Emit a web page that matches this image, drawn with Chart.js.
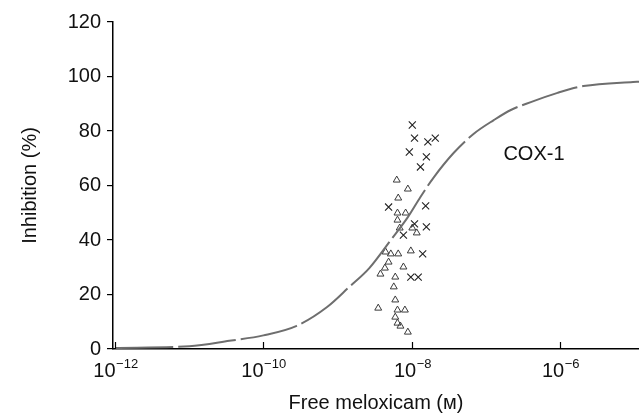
<!DOCTYPE html>
<html>
<head>
<meta charset="utf-8">
<script src="https://cdn.jsdelivr.net/npm/chart.js@4.4.1/dist/chart.umd.min.js"></script>
<style>
  html, body { margin: 0; padding: 0; background: #fff; }
  #wrap { width: 639px; height: 420px; position: relative; }
</style>
</head>
<body>
<div id="wrap"><canvas id="c" width="639" height="420"></canvas></div>
<script>
// ---- Data (x values stored as log10 of free meloxicam concentration, M) ----
const xTickExponents = [-12, -10, -8, -6];
const xTickBase = '10';
const xTickExponentLabels = ['\u221212', '\u221210', '\u22128', '\u22126'];
const yTickValues = [0, 20, 40, 60, 80, 100, 120];

// fitted COX-1 curve
const curveLogConc = [-12.0, -11.0, -10.46, -10.0, -9.55, -9.14, -8.84, -8.57, -8.28, -8.05, -7.88, -7.70, -7.43, -7.16, -6.89, -6.66, -6.39, -6.03, -5.68, -5.01, -4.93];
const curveInhibition = [0.4, 1.0, 3.0, 5.0, 8.5, 15.4, 22.8, 29.7, 40.0, 48.4, 55.8, 63.0, 72.0, 79.0, 84.0, 87.7, 90.6, 94.0, 96.5, 98.0, 98.1];

// crosses
const crossLogConc = [-7.99, -7.96, -7.78, -7.68, -8.03, -7.80, -7.88, -8.31, -7.81, -7.96, -7.80, -8.11, -7.85, -8.01, -7.91];
const crossInhibition = [82.2, 77.4, 76.0, 77.4, 72.3, 70.5, 66.8, 52.1, 52.5, 45.9, 44.8, 41.8, 34.9, 26.4, 26.4];

// triangles
const triLogConc = [-8.20, -8.05, -8.18, -8.19, -8.08, -8.19, -7.99, -7.93, -8.16, -8.35, -8.28, -8.18, -8.01, -8.31, -8.36, -8.42, -8.11, -8.22, -8.24, -8.22, -8.45, -8.19, -8.09, -8.22, -8.19, -8.15, -8.05];
const triInhibition = [62.0, 58.7, 55.4, 49.9, 49.9, 47.3, 44.4, 42.6, 44.4, 35.6, 34.9, 34.9, 36.0, 31.9, 29.7, 27.5, 30.1, 26.4, 22.8, 18.0, 15.0, 14.3, 14.3, 11.7, 9.5, 8.4, 6.2];

const curveLabel = 'COX-1';
const xTitle = 'Free meloxicam (\u1D0D)';
const yTitle = 'Inhibition (%)';

// ---- helpers ----
const toPoints = (lx, ly) => lx.map((e, i) => ({ x: Math.pow(10, e), y: ly[i] }));
const FONT = "'Liberation Sans', Arial, Helvetica, sans-serif";

const axisExtras = {
  id: 'axisExtras',
  afterDraw(chart) {
    const ctx = chart.ctx, xs = chart.scales.x, ys = chart.scales.y, area = chart.chartArea;
    ctx.save();
    ctx.strokeStyle = '#000';
    ctx.lineWidth = 1.2;
    xTickExponents.forEach((e, i) => {
      const px = Math.round(xs.getPixelForValue(Math.pow(10, e))) + 0.5;
      // inward tick
      ctx.beginPath();
      ctx.moveTo(px, area.bottom);
      ctx.lineTo(px, area.bottom - 7);
      ctx.stroke();
      // label 10^e
      ctx.fillStyle = '#111';
      ctx.textBaseline = 'alphabetic';
      ctx.textAlign = 'left';
      ctx.font = '20px ' + FONT;
      const wb = ctx.measureText(xTickBase).width;
      ctx.font = '13px ' + FONT;
      const we = ctx.measureText(xTickExponentLabels[i]).width;
      const x0 = px - (wb + we) / 2;
      const base = area.bottom + 28;
      ctx.font = '20px ' + FONT;
      ctx.fillText(xTickBase, x0, base);
      ctx.font = '13px ' + FONT;
      ctx.fillText(xTickExponentLabels[i], x0 + wb + 0.5, base - 9);
    });
    // curve label
    const lx = xs.getPixelForValue(Math.pow(10, -6.76));
    const ly = ys.getPixelForValue(71.2);
    ctx.fillStyle = '#111';
    ctx.font = '20px ' + FONT;
    ctx.textAlign = 'left';
    ctx.textBaseline = 'middle';
    ctx.fillText(curveLabel, lx, ly);
    ctx.restore();
  }
};

new Chart(document.getElementById('c'), {
  type: 'scatter',
  data: {
    datasets: [
      {
        type: 'line',
        label: curveLabel,
        data: toPoints(curveLogConc, curveInhibition),
        borderColor: '#6e6e6e',
        borderWidth: 2,
        borderDash: [58, 5],
        pointRadius: 0,
        tension: 0.4,
        cubicInterpolationMode: 'monotone',
        fill: false
      },
      {
        label: 'triangles',
        data: toPoints(triLogConc, triInhibition),
        pointStyle: 'triangle',
        pointRadius: 4,
        borderWidth: 1,
        borderColor: '#3a3a3a',
        backgroundColor: 'rgba(0,0,0,0)'
      },
      {
        label: 'crosses',
        data: toPoints(crossLogConc, crossInhibition),
        pointStyle: 'crossRot',
        pointRadius: 5,
        borderWidth: 1.1,
        borderColor: '#222',
        backgroundColor: 'rgba(0,0,0,0)'
      }
    ]
  },
  options: {
    responsive: false,
    animation: false,
    devicePixelRatio: 1,
    layout: { autoPadding: false, padding: { top: 22, right: 0, bottom: 0, left: 0 } },
    plugins: { legend: { display: false }, tooltip: { enabled: false } },
    scales: {
      x: {
        type: 'logarithmic',
        min: Math.pow(10, -12.03),
        max: Math.pow(10, -4.93),
        afterBuildTicks: s => { s.ticks = xTickExponents.map(e => ({ value: Math.pow(10, e) })); },
        afterFit: s => { s.height = 71; s.paddingLeft = 0; s.paddingRight = 0; },
        ticks: {
          display: false,
          autoSkip: false,
          maxRotation: 0
        },
        grid: { display: false, drawTicks: false },
        border: { display: true, color: '#000', width: 1.5 },
        title: { display: true, text: xTitle, color: '#111', font: { family: FONT, size: 20 }, padding: { top: 0, bottom: 5 } }
      },
      y: {
        min: 0,
        max: 120,
        afterBuildTicks: s => { s.ticks = yTickValues.map(v => ({ value: v })); },
        afterFit: s => { s.width = 113; },
        ticks: {
          padding: 6,
          color: '#111',
          font: { family: FONT, size: 20 }
        },
        grid: { drawOnChartArea: false, drawTicks: true, tickLength: 6, color: '#000', lineWidth: 1.2 },
        border: { display: true, color: '#000', width: 1.5 },
        title: { display: true, text: yTitle, color: '#111', font: { family: FONT, size: 20 }, padding: { top: 18, bottom: 0 } }
      }
    }
  },
  plugins: [axisExtras]
});
</script>
</body>
</html>
